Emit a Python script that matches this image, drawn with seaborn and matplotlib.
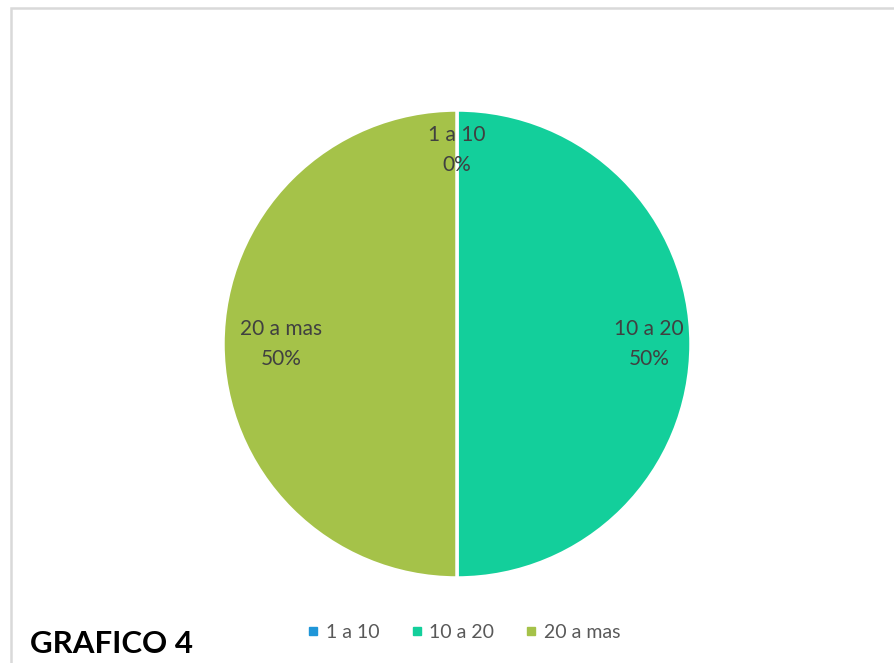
import matplotlib
matplotlib.use("Agg")
import matplotlib.pyplot as plt
import seaborn as sns
import numpy as np
from matplotlib.patches import Rectangle
from matplotlib.lines import Line2D

categories = ["1 a 10", "10 a 20", "20 a mas"]
values = [0, 50, 50]
percent_labels = ["0%", "50%", "50%"]
colors = ["#1F96D8", "#13CF9B", "#A5C249"]
title = "GRAFICO 4"

sns.set_theme(style="white")
plt.rcParams["font.family"] = ["Lato", "DejaVu Sans"]

fig = plt.figure(figsize=(8.94, 6.63), dpi=100)
W, H = 894, 663
cx, cy, r = 457, 344, 234
ax = fig.add_axes([(cx - r) / W, (H - cy - r) / H, 2 * r / W, 2 * r / H])

wedges, _ = ax.pie(values, colors=colors, startangle=90, counterclock=False,
                   radius=1, wedgeprops=dict(edgecolor="white", linewidth=2.5))
ax.set_xlim(-1, 1)
ax.set_ylim(-1, 1)
ax.set_aspect("equal")
ax.axis("off")

dists = [0.83, 0.82, 0.75]
for w, cat, pct, d in zip(wedges, categories, percent_labels, dists):
    ang = np.deg2rad((w.theta1 + w.theta2) / 2)
    ax.text(d * np.cos(ang), d * np.sin(ang), f"{cat}\n{pct}", ha="center", va="center",
            fontsize=15, color="#404040", linespacing=1.65)

# chart border
fig.patches.append(Rectangle((11 / W, -0.05), 1.0, 1 - 8 / H + 0.05, transform=fig.transFigure,
                             fill=False, edgecolor="#D9D9D9", linewidth=1.8))

handles = [Line2D([0], [0], marker="s", linestyle="none", markersize=6,
                  markerfacecolor=c, markeredgecolor=c) for c in colors]
fig.legend(handles, categories, loc="center", bbox_to_anchor=(463 / W, 1 - 632 / H),
           ncol=3, frameon=False, fontsize=14, labelcolor="#595959",
           handletextpad=0.25, columnspacing=1.5, handlelength=0.8)

fig.text(30 / W, 1 - 644 / H, title, ha="left", va="center", fontsize=22.5,
         fontweight="bold", color="black")

fig.savefig("out.png", dpi=100)
